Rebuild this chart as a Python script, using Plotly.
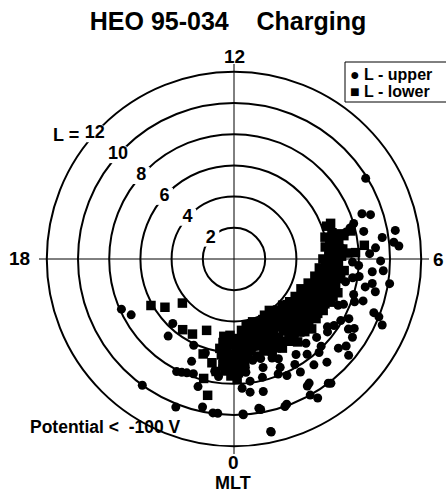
import math
import plotly.graph_objects as go

title_text = "HEO 95-034\u00a0\u00a0\u00a0\u00a0Charging"
mlt_tick_values = [0, 6, 12, 18]
mlt_tick_labels = ["0", "6", "12", "18"]
l_levels = [2, 4, 6, 8, 10, 12]
l_level_labels = ["2", "4", "6", "8", "10", "12"]
label_mlt = 15.2
series_names = ["L - upper", "L - lower"]

# L-upper (circles)
upper_l = [9.9, 8.7, 9.2, 7.7, 10.5, 9.6, 10.3, 10.6, 6.9, 8.7, 9.4, 8.9, 9.6, 10.1, 9.0, 9.3, 8.1, 7.3,
           9.6, 10.0, 10.4, 8.2, 7.3, 8.3, 8.9, 9.1, 9.1, 9.6, 7.7, 7.6, 8.1, 8.9, 10.1, 8.4, 9.3, 10.0,
           10.4, 8.5, 9.9, 9.8, 11.3, 10.0, 10.0,
           7.4, 8.0, 7.6, 8.0, 7.7, 8.0, 7.6, 7.9, 7.4, 7.3, 7.9, 7.1, 7.7, 7.3, 7.8, 7.0, 7.9, 7.2, 7.8,
           7.3, 7.9, 6.9, 7.6, 8.5, 9.1, 8.6, 8.7, 8.6, 8.8,
           5.8, 6.2, 5.5, 6.0, 6.5, 5.6, 6.3, 5.9, 5.3, 6.6, 6.8, 6.6, 7.0, 6.8, 6.0, 6.8, 4.8,
           7.9, 7.5, 5.7, 6.5, 6.1, 6.3, 7.1, 8.1, 8.0, 7.9, 7.8, 7.3, 8.5, 9.7, 10.2, 10.0, 9.96, 9.95,
           8.3, 8.6, 8.7, 8.2, 7.55, 9.95, 9.7, 10.0, 11.35, 9.4]
upper_mlt = [8.1, 7.3, 7.2, 7.0, 6.67, 6.55, 6.4, 6.3, 6.4, 6.15, 5.95, 5.65, 5.7, 5.4, 5.33, 5.13, 5.47, 5.23,
             4.6, 4.55, 4.4, 4.7, 4.4, 4.17, 4.0, 3.77, 3.48, 3.33, 3.76, 3.47, 2.82, 2.8, 2.53, 2.03, 2.08, 1.95,
             2.07, 2.47, 1.33, 0.67, 0.8, 0.23, 2.48,
             6.9, 7.1, 5.9, 5.8, 5.4, 4.9, 4.5, 4.0, 3.6, 3.1, 3.0, 2.7, 2.5, 2.2, 2.0, 1.6, 1.4, 1.0, 0.9,
             0.4, 0.5, 23.6, 23.5, 6.8, 6.3, 5.2, 4.8, 3.9, 3.3,
             2.0, 2.6, 3.0, 3.5, 4.2, 4.6, 5.0, 0.5, 0.9, 0.7, 1.4, 1.0, 0.4, 23.9, 5.9, 6.3, 2.0,
             19.6, 19.9, 21.1, 21.3, 22.33, 22.87, 22.5, 22.2, 22.35, 22.5, 22.7, 23.35, 22.95, 23.2, 22.57, 21.6, 23.48, 23.6,
             0.24, 0.46, 0.83, 1.63, 1.54, 0.22, 0.63, 1.27, 0.81, 2.0]

# L-lower (squares)
lower_l = [5.0, 5.4, 5.8, 6.2, 4.9, 5.3, 5.7, 6.1, 6.5, 6.9, 5.1, 5.5, 5.9, 6.3, 6.7, 7.1, 7.5, 7.7,
           4.6, 5.0, 5.4, 5.8, 6.2, 6.6, 4.3, 4.7, 5.2, 5.6, 6.0, 6.4,
           4.2, 4.6, 5.0, 5.4, 5.8, 6.2, 4.4, 4.8, 5.2, 5.6, 6.0, 6.4, 4.1, 4.5, 4.9, 5.3, 5.7, 6.1, 6.5,
           4.0, 4.4, 4.8, 5.2, 5.6, 6.0, 6.4, 6.7, 4.3, 4.7, 5.1, 5.5, 5.9, 6.3,
           4.3, 4.7, 5.1, 5.5, 5.9, 6.3, 6.7, 4.5, 4.9, 5.3, 5.7, 6.1, 6.5, 4.6, 5.0, 5.4, 5.8, 6.2, 6.6,
           4.7, 5.1, 5.5, 5.9, 6.3, 6.8, 5.0, 5.4, 5.8, 6.2, 6.6, 7.0,
           5.3, 5.7, 6.1, 6.5, 6.9, 5.5, 5.9, 6.3, 6.7, 7.1,
           5.7, 6.1, 6.5, 6.9, 7.3, 7.8, 8.4, 5.9, 6.3, 6.8, 7.2, 7.7, 6.0, 6.5, 6.3, 6.6,
           6.1, 5.4, 4.35, 5.6, 5.5, 4.9, 6.4, 7.9, 8.9, 6.8, 7.3,
           5.2, 5.6, 6.0, 6.4, 5.3, 5.7, 6.1, 6.5, 6.9, 4.8, 5.4, 6.2, 7.3, 6.8, 7.2,
           4.4, 4.8, 5.2, 5.6, 6.0, 4.3, 4.7, 5.1, 5.5, 5.9, 6.3,
           4.2, 4.6, 5.0, 5.4, 5.8, 6.2, 4.5, 4.9, 5.3, 5.7, 6.1, 6.5,
           4.5, 4.9, 5.3, 5.7, 6.1, 4.8, 5.2, 5.6, 6.0, 6.4,
           4.9, 5.3, 5.7, 6.1, 6.5, 5.2, 5.6, 6.0, 6.4, 6.8,
           5.5, 5.9, 6.3, 6.7, 5.7, 6.1, 6.5, 6.9, 5.9, 6.3, 6.7,
           6.1, 6.5, 7.0, 6.3, 6.9]
lower_mlt = [23.5, 23.5, 23.4, 23.5, 23.8, 23.8, 23.7, 23.8, 23.7, 23.8, 0.1, 0.0, 0.1, 0.0, 0.1, 0.0, 23.9, 0.1,
             0.4, 0.4, 0.4, 0.3, 0.4, 0.4, 0.7, 0.8, 0.7, 0.8, 0.7, 0.9,
             1.1, 1.2, 1.1, 1.2, 1.1, 1.2, 1.5, 1.5, 1.6, 1.5, 1.6, 1.5, 1.9, 1.9, 1.8, 1.9, 1.9, 2.0, 1.9,
             2.3, 2.2, 2.3, 2.2, 2.3, 2.4, 2.3, 2.5, 2.7, 2.6, 2.7, 2.7, 2.8, 2.8,
             3.1, 3.1, 3.2, 3.1, 3.2, 3.3, 3.2, 3.5, 3.6, 3.5, 3.6, 3.7, 3.6, 3.9, 4.0, 3.9, 4.0, 4.1, 4.0,
             4.4, 4.4, 4.3, 4.4, 4.5, 4.4, 4.8, 4.8, 4.9, 4.8, 4.9, 4.8,
             5.2, 5.3, 5.2, 5.3, 5.3, 5.6, 5.7, 5.6, 5.7, 5.6,
             6.0, 6.1, 6.0, 6.1, 6.2, 6.2, 6.4, 6.5, 6.5, 6.6, 6.8, 6.9, 6.9, 7.0, 7.3, 7.35,
             19.95, 20.33, 20.7, 21.6, 22.07, 22.6, 22.8, 23.05, 23.27, 23.2, 23.4,
             23.65, 23.6, 23.65, 23.6, 0.25, 0.2, 0.25, 0.25, 0.2, 0.6, 0.55, 0.55, 0.15, 23.6, 23.7,
             1.35, 1.3, 1.35, 1.3, 1.4, 1.7, 1.7, 1.7, 1.75, 1.7, 1.7,
             2.5, 2.45, 2.5, 2.45, 2.55, 2.55, 2.9, 2.9, 2.9, 2.95, 3.0, 2.95,
             3.3, 3.35, 3.3, 3.4, 3.45, 3.75, 3.75, 3.8, 3.85, 3.8,
             4.2, 4.2, 4.15, 4.25, 4.25, 4.6, 4.6, 4.65, 4.65, 4.6,
             5.05, 5.05, 5.05, 5.1, 5.45, 5.45, 5.45, 5.5, 5.85, 5.85, 5.85,
             6.3, 6.3, 6.35, 6.75, 6.9]

FONT = "Liberation Sans, Arial, sans-serif"
W, H = 446, 493
cx, cy, rad = 234, 259, 195


def mlt_to_deg(values):
    return [v * 15 for v in values]


fig = go.Figure()

# L-shell labels sitting in small gaps of the circles
fig.add_trace(go.Scatterpolar(
    r=l_levels, theta=mlt_to_deg([label_mlt] * len(l_levels)),
    mode="markers+text", text=l_level_labels, textposition="middle center",
    marker=dict(symbol="square", size=17, color="white"),
    textfont=dict(family=FONT, size=18, color="black", weight="bold"),
    hoverinfo="skip", showlegend=False,
))

fig.add_trace(go.Scatterpolar(
    r=lower_l, theta=mlt_to_deg(lower_mlt), mode="markers", name=series_names[1],
    marker=dict(symbol="square", size=9.5, color="black"), showlegend=False,
))
fig.add_trace(go.Scatterpolar(
    r=upper_l, theta=mlt_to_deg(upper_mlt), mode="markers", name=series_names[0],
    marker=dict(symbol="circle", size=9, color="black"), showlegend=False,
))

# MLT tick labels placed just outside the crosshair ends
tick_font = dict(family=FONT, size=19, color="black", weight="bold")
annotations = []
for val, lab in zip(mlt_tick_values, mlt_tick_labels):
    ang = math.radians(270 + val * 15)
    ux, uy = math.cos(ang), math.sin(ang)
    if abs(ux) > 0.5:
        d = 197 if ux > 0 else 202
        xa = "left" if ux > 0 else "right"
        ya = "middle"
    else:
        d = 203
        xa = "center"
        ya = "middle"
    annotations.append(dict(text=lab, x=(cx + ux * d) / W, y=1 - (cy - uy * d) / H, xref="paper", yref="paper",
                            xanchor=xa, yanchor=ya, showarrow=False, font=tick_font))

annotations += [
    dict(text="L =", x=81 / W, y=1 - 135 / H, xref="paper", yref="paper", xanchor="right", yanchor="middle",
         showarrow=False, font=dict(family=FONT, size=18, color="black", weight="bold")),
    dict(text="MLT", x=233 / W, y=1 - 483 / H, xref="paper", yref="paper", xanchor="center", yanchor="middle",
         showarrow=False, font=dict(family=FONT, size=18, color="black", weight="bold")),
    dict(text="Potential <\u00a0\u00a0-100 V", x=105 / W, y=1 - 427 / H, xref="paper", yref="paper",
         xanchor="center", yanchor="middle", showarrow=False,
         font=dict(family=FONT, size=17.5, color="black", weight="bold")),
    dict(text="\u25cf " + series_names[0], x=348 / W, y=1 - 74 / H, xref="paper", yref="paper",
         xanchor="left", yanchor="middle", showarrow=False,
         font=dict(family=FONT, size=16, color="black", weight="bold")),
    dict(text="\u25a0 " + series_names[1], x=348 / W, y=1 - 92 / H, xref="paper", yref="paper",
         xanchor="left", yanchor="middle", showarrow=False,
         font=dict(family=FONT, size=16, color="black", weight="bold")),
]

fig.update_layout(
    width=W, height=H,
    margin=dict(l=0, r=0, t=0, b=0),
    paper_bgcolor="white",
    font=dict(family=FONT, color="black"),
    title=dict(text=title_text, x=228 / W, y=1 - 21 / H, xanchor="center", yanchor="middle",
               font=dict(family=FONT, size=25, color="black", weight="bold")),
    polar=dict(
        domain=dict(x=[(cx - rad) / W, (cx + rad) / W], y=[1 - (cy + rad) / H, 1 - (cy - rad) / H]),
        bgcolor="white",
        radialaxis=dict(range=[0, 12.5], tickmode="array", tickvals=l_levels, showticklabels=False,
                        ticks="", showline=False, gridcolor="black", gridwidth=1.6, layer="below traces"),
        angularaxis=dict(rotation=270, direction="counterclockwise", thetaunit="degrees",
                         tickmode="array", tickvals=mlt_to_deg(mlt_tick_values), ticktext=mlt_tick_labels,
                         showticklabels=False, showline=False, ticks="", gridcolor="black", gridwidth=1.4,
                         layer="below traces"),
    ),
    shapes=[dict(type="rect", xref="paper", yref="paper", x0=345 / W, x1=1.02, y0=1 - 102 / H, y1=1 - 62 / H,
                 line=dict(color="black", width=1), fillcolor="white", layer="above")],
    annotations=annotations,
)

fig.write_html("out.html")
